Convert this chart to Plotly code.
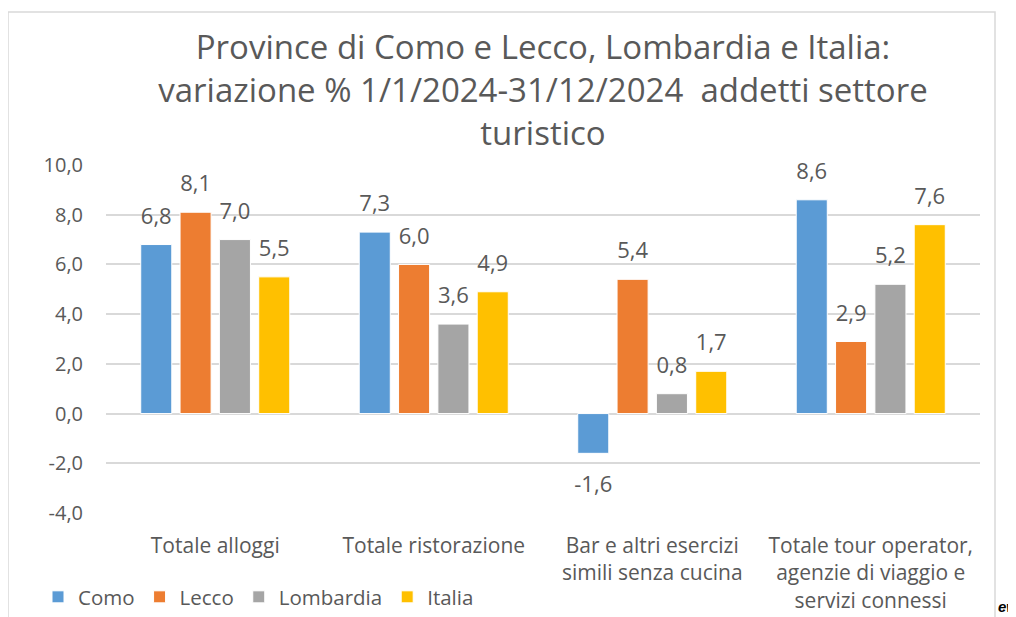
import plotly.graph_objects as go

categories = ["Totale alloggi", "Totale ristorazione",
              "Bar e altri esercizi<br>simili senza cucina",
              "Totale tour operator,<br>agenzie di viaggio e<br>servizi connessi"]
como = [6.8, 7.3, -1.6, 8.6]
lecco = [8.1, 6.0, 5.4, 2.9]
lombardia = [7.0, 3.6, 0.8, 5.2]
italia = [5.5, 4.9, 1.7, 7.6]
series_names = ["Como", "Lecco", "Lombardia", "Italia"]
colors = ["#5B9BD5", "#ED7D31", "#A5A5A5", "#FFC000"]
tick_vals = [-4, -2, 0, 2, 4, 6, 8, 10]
tick_text = ["-4,0", "-2,0", "0,0", "2,0", "4,0", "6,0", "8,0", "10,0"]

FONT = "Open Sans"
GRAY = "#595959"
OFF = 8  # page body margin offset
GAP = 0.28


def fmt(v):
    return f"{v:.1f}".replace(".", ",")


fig = go.Figure()
for name, vals, col in zip(series_names, [como, lecco, lombardia, italia], colors):
    fig.add_trace(go.Bar(
        x=categories, y=vals, name=name, offsetgroup=name,
        marker=dict(color=col, line=dict(color="white", width=1)),
        cliponaxis=False,
    ))
    # value labels, aligned with the bars of the same offset group
    fig.add_trace(go.Scatter(
        x=categories, y=vals, mode="markers+text", offsetgroup=name,
        text=[fmt(v) for v in vals],
        textposition=["top center" if v >= 0 else "bottom center" for v in vals],
        marker=dict(size=[23 if v >= 0 else 34 for v in vals],
                    color="rgba(0,0,0,0)", line=dict(width=0, color="rgba(0,0,0,0)")),
        textfont=dict(family=FONT, size=22, color=GRAY),
        showlegend=False, hoverinfo="skip", cliponaxis=False,
    ))

W, H = 1016, 617
# plot area in page pixels: x 106..980, y 165..513
L = 106 - OFF
R = W - (980 - OFF)
T = 165 - OFF
B = H - (513 - OFF)
pw, ph = W - L - R, H - T - B


def px_x(x):
    return (x - OFF - L) / pw


def px_y(y):
    return (H - B - (y - OFF)) / ph


fig.update_layout(
    width=W, height=H,
    margin=dict(l=L, r=R, t=T, b=B, autoexpand=False),
    paper_bgcolor="white", plot_bgcolor="white",
    barmode="group", bargap=GAP, bargroupgap=0.21,
    scattermode="group", scattergap=GAP,
    title=dict(
        text="Province di Como e Lecco, Lombardia e Italia:<br>variazione % 1/1/2024-31/12/2024  addetti settore<br>turistico",
        x=0.5, xref="paper", xanchor="center",
        yref="container", y=1 - 51 / H, yanchor="middle",
        font=dict(family=FONT, size=33, color=GRAY),
    ),
    font=dict(family=FONT, color=GRAY),
    yaxis=dict(
        range=[-4, 10], tickvals=tick_vals, ticktext=tick_text,
        showgrid=True, gridcolor="#D9D9D9", gridwidth=1.5,
        zeroline=False, showline=False, automargin=False,
        tickfont=dict(family=FONT, size=20, color=GRAY),
        ticks="", ticklabelstandoff=22,
    ),
    xaxis=dict(
        showline=False, ticks="", showgrid=False, automargin=False,
        tickfont=dict(family=FONT, size=21, color=GRAY),
        ticklabelstandoff=18,
    ),
    showlegend=True,
    legend=dict(
        orientation="h", xref="container", x=(55 - 17 - OFF) / W, xanchor="left",
        yref="container", y=1 - (597 - OFF) / H, yanchor="middle",
        font=dict(family=FONT, size=20.5, color=GRAY),
        itemwidth=30, tracegroupgap=0,
    ),
    shapes=[dict(
        type="rect", xref="paper", yref="paper",
        x0=px_x(8), x1=px_x(995), y0=px_y(640), y1=px_y(12),
        line=dict(color="#D9D9D9", width=1.5), fillcolor="rgba(0,0,0,0)",
        layer="below",
    )],
    annotations=[dict(
        text="<b><i>ew</i></b>", xref="paper", yref="paper",
        x=px_x(996), y=px_y(606), xanchor="left", yanchor="middle",
        showarrow=False, font=dict(family="Liberation Sans", size=15, color="black"),
    )],
)

fig.write_html("out.html")
